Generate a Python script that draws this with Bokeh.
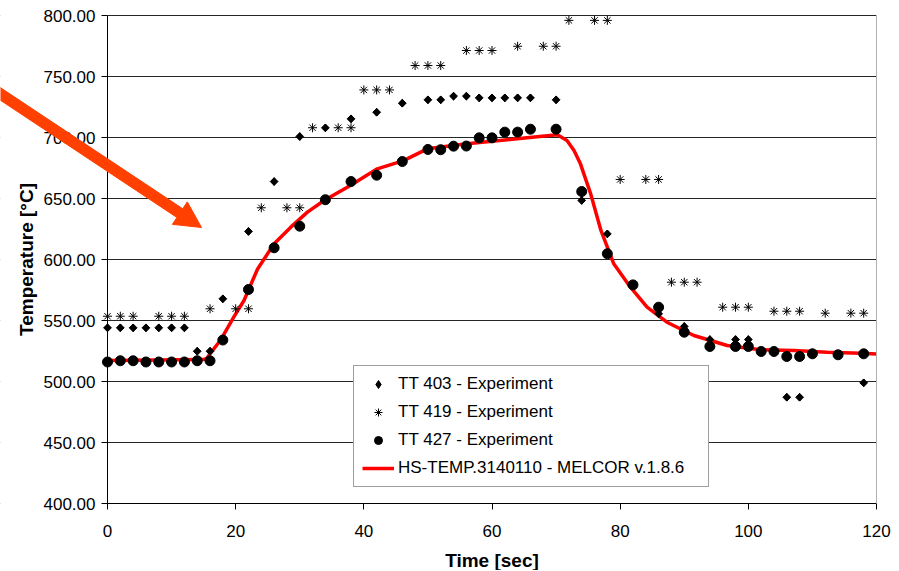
from bokeh.plotting import figure
from bokeh.models import (Legend, LegendItem, PolyAnnotation, BoxAnnotation, LinearAxis, Grid,
                          NumeralTickFormatter, FixedTicker, Range1d)
from bokeh.embed import file_html
from bokeh.resources import INLINE
import math

# ---- data ----
tt403_t = [0, 2, 4, 6, 8, 10, 12, 14, 16, 18, 22, 26, 30, 34, 38, 42, 46, 50, 52, 54, 56,
           58, 60, 62, 64, 66, 70, 74, 78, 82, 86, 90, 94, 98, 100, 102, 104, 106, 108,
           110, 114, 118]
tt403_v = [544, 544, 544, 544, 544, 544, 544, 524.8, 524.8, 567.8, 623, 663.9, 700.8, 707.9,
           715.3, 720.7, 728.1, 730.9, 730.9, 733.9, 733.9, 732.5, 732.5, 732.5, 732.5, 732.5,
           730.9, 648.4, 621, 580, 555.5, 545.1, 534.4, 534.4, 534.4, 525, 525, 487.1, 487.1,
           523, 522, 498.9]

tt419_t = [0, 2, 4, 8, 10, 12, 16, 20, 22, 24, 28, 30, 32, 36, 38, 40, 42, 44, 48, 50, 52,
           56, 58, 60, 64, 68, 70, 72, 76, 78, 80, 84, 86, 88, 90, 92, 96, 98, 100, 104,
           106, 108, 112, 116, 118]
tt419_v = [553.5, 553.5, 553.5, 553.5, 553.5, 553.5, 559.6, 559.6, 559.6, 642.4, 642.4, 642.4,
           708, 708, 708, 739, 739, 739, 759, 759, 759, 771.3, 771.3, 771.3, 774.8, 774.8,
           774.8, 796, 796, 796, 665.6, 665.6, 665.6, 581.4, 581.4, 581.4, 560.9, 560.9,
           560.9, 557.6, 557.6, 557.6, 556, 556, 556]

tt427_t = [0, 2, 4, 6, 8, 10, 12, 14, 16, 18, 22, 26, 30, 34, 38, 42, 46, 50, 52, 54, 56,
           58, 60, 62, 64, 66, 70, 74, 78, 82, 86, 90, 94, 98, 100, 102, 104, 106, 108,
           110, 114, 118]
tt427_v = [516, 517, 517, 516, 516, 516, 516, 517, 517, 534, 575.4, 609.6, 627.3, 649, 663.9,
           669.1, 680.3, 690.2, 690, 692.9, 693, 699.7, 699.7, 704.4, 704.4, 706.8, 706.8,
           655.7, 604.7, 579.2, 560.9, 540.4, 528.7, 528.7, 528.7, 524.6, 524.6, 520.5,
           520.5, 522.7, 521.9, 522.7]

melcor_t = [0, 15, 15.5, 16, 17.6, 19.7, 21.3, 23.4, 26, 28.6, 31.2, 33.8, 37.9, 42.1, 46.2,
            49.9, 56.1, 63.9, 70.2, 71.7, 72.8, 73.8, 75.4, 77, 79, 81.6, 84.2, 87.3, 91.5,
            96.7, 101.9, 107.1, 112.3, 117.5, 120]
melcor_v = [517.3, 518, 519, 522.7, 533.6, 552.7, 566.4, 592, 612.9, 626.5, 638.8, 648.4,
            660.7, 674.3, 681.1, 690.7, 694.8, 698.9, 702.2, 697.5, 689.3, 678.4, 653.8,
            623.8, 596.5, 577.3, 560.9, 548.6, 537.7, 529.5, 526, 525.4, 524, 523.2, 522.5]

x_ticks = [0, 20, 40, 60, 80, 100, 120]
y_ticks = [400, 450, 500, 550, 600, 650, 700, 750, 800]

labels = ["TT 403 - Experiment", "TT 419 - Experiment", "TT 427 - Experiment",
          "HS-TEMP.3140110 - MELCOR v.1.8.6"]

FONT = "Liberation Sans"
ARROW_COLOR = "#FF4000"

# ---- layout: the frame fills the canvas, axes are pinned inside it ----
W, H = 892, 570
X0, X1 = 0, 120
Y0, Y1 = 400, 800
PL, PR, PT, PB = 107, 876, 15, 503      # pixel box of the plotting area
kx = (X1 - X0) / (PR - PL)
ky = (Y1 - Y0) / (PB - PT)
x_range = Range1d(X0 - PL * kx, X1 + (W - PR) * kx)
y_range = Range1d(Y0 - (H - PB) * ky, Y1 + PT * ky)

p = figure(width=W, height=H, output_backend="svg", toolbar_location=None,
           x_range=x_range, y_range=y_range, min_border=0,
           x_axis_location=None, y_axis_location=None)
p.title.visible = False
p.background_fill_color = "white"
p.border_fill_color = "white"
p.outline_line_color = None
p.xgrid.visible = False
p.ygrid.visible = False

ygrid = Grid(dimension=1, ticker=FixedTicker(ticks=y_ticks),
             grid_line_color="#262626", grid_line_width=1)
p.add_layout(ygrid)
# keep grid lines only across the plotting area (white masks beyond both ends)
mask_l = (x_range.start - 50 * kx, X0)
mask_r = (X1, x_range.end + 50 * kx)
for l_, r_ in (mask_l, mask_r):
    p.add_layout(BoxAnnotation(left=l_, right=r_,
                               bottom=y_range.start - 50 * ky, top=y_range.end + 50 * ky,
                               fill_color="white", fill_alpha=1,
                               line_color="white", line_width=1, level="underlay"))

xaxis = LinearAxis(fixed_location=Y0, bounds=(X0, X1), ticker=FixedTicker(ticks=x_ticks),
                   axis_label="Time [sec]")
yaxis = LinearAxis(fixed_location=X0, bounds=(Y0, Y1), ticker=FixedTicker(ticks=y_ticks),
                   formatter=NumeralTickFormatter(format="0.00"),
                   axis_label="Temperature [°C]")
for ax in (xaxis, yaxis):
    ax.axis_line_color = "black"
    ax.major_tick_line_color = "black"
    ax.major_tick_out = 6
    ax.major_tick_in = 0
    ax.minor_tick_line_color = None
    ax.major_label_text_font = FONT
    ax.major_label_text_font_size = "17px"
    ax.major_label_text_color = "black"
    ax.axis_label_text_font = FONT
    ax.axis_label_text_font_size = "19px"
    ax.axis_label_text_font_style = "bold"
    ax.axis_label_text_color = "black"
xaxis.major_label_standoff = 15
xaxis.axis_label_standoff = 10
yaxis.major_label_standoff = 6
yaxis.axis_label_standoff = 4
p.add_layout(xaxis, "below")
p.add_layout(yaxis, "left")

# right border of the plotting area
rborder = LinearAxis(fixed_location=X1, bounds=(Y0, Y1), ticker=FixedTicker(ticks=[]),
                     axis_line_color="#b0b0b0", major_tick_line_color=None,
                     minor_tick_line_color=None, major_label_text_alpha=0)
p.add_layout(rborder, "right")

r_line = p.line(melcor_t, melcor_v, line_color="#FF0000", line_width=3.5)
r403_leg = p.scatter(tt403_t, tt403_v, marker="diamond", size=7.5,
                     fill_color="black", line_color="black")
r403 = p.scatter(tt403_t, tt403_v, marker="square", angle=math.pi / 4, size=5.5,
                 fill_color="black", line_color="black")
r419 = p.scatter(tt419_t, tt419_v, marker="asterisk", size=9,
                 line_color="black", line_width=1)
r427 = p.scatter(tt427_t, tt427_v, marker="circle", size=10,
                 fill_color="black", line_color="black")

legend = Legend(items=[LegendItem(label=labels[0], renderers=[r403_leg]),
                       LegendItem(label=labels[1], renderers=[r419]),
                       LegendItem(label=labels[2], renderers=[r427]),
                       LegendItem(label=labels[3], renderers=[r_line])],
                location=(353, H - 487), padding=8, spacing=8, margin=0,
                glyph_width=32, glyph_height=20, label_height=20, label_width=302,
                label_standoff=4,
                label_text_font=FONT, label_text_font_size="17px",
                label_text_color="black",
                border_line_color="#404040", border_line_width=1,
                background_fill_color="white", background_fill_alpha=1)
p.add_layout(legend, "center")

# callout arrow (annotation shape in canvas pixels)
tip = (201.0, 227.0)
start = (0.0, 93.5)
dx, dy = tip[0] - start[0], tip[1] - start[1]
ln = math.hypot(dx, dy)
ux, uy = dx / ln, dy / ln
nx, ny = -uy, ux
shaft_w, head_w, head_l = 10.5, 27.0, 26.0
s0 = (start[0] - 20 * ux, start[1] - 20 * uy)
b = (tip[0] - head_l * ux, tip[1] - head_l * uy)
pts = [
    (s0[0] + nx * shaft_w / 2, s0[1] + ny * shaft_w / 2),
    (b[0] + nx * shaft_w / 2, b[1] + ny * shaft_w / 2),
    (b[0] + nx * head_w / 2, b[1] + ny * head_w / 2),
    tip,
    (b[0] - nx * head_w / 2, b[1] - ny * head_w / 2),
    (b[0] - nx * shaft_w / 2, b[1] - ny * shaft_w / 2),
    (s0[0] - nx * shaft_w / 2, s0[1] - ny * shaft_w / 2),
]
arrow = PolyAnnotation(xs=[q[0] for q in pts], ys=[q[1] for q in pts],
                       xs_units="canvas", ys_units="canvas",
                       fill_color=ARROW_COLOR, fill_alpha=1,
                       line_color=ARROW_COLOR, line_width=1, line_alpha=1)
p.add_layout(arrow)

open("out.html", "w").write(file_html(p, INLINE))
